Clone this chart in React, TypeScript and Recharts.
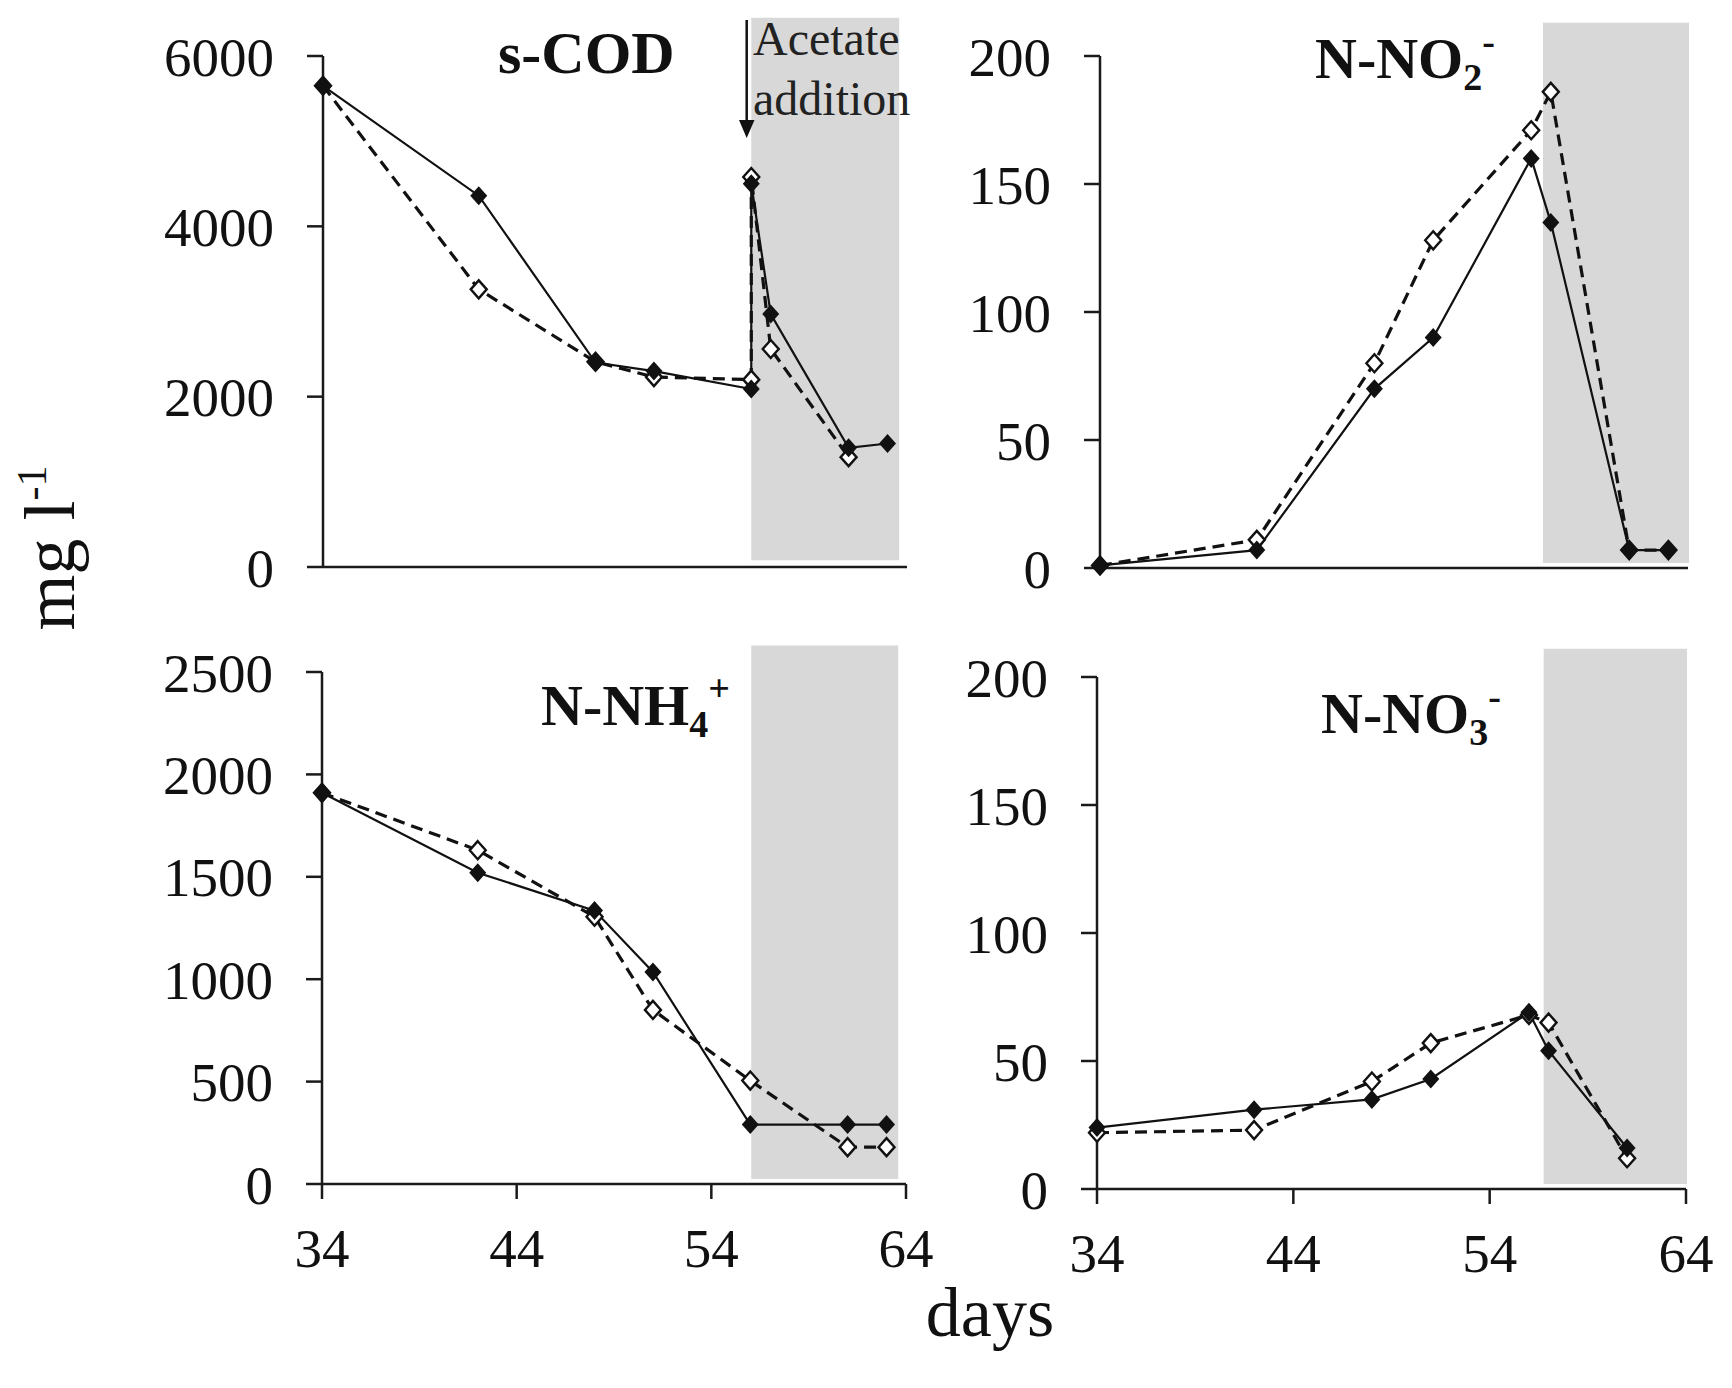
import React from 'react';
import { LineChart, Line, XAxis, YAxis, ReferenceArea } from 'recharts';

// s-COD
const codDays = [34, 42, 48, 51, 56, 56, 57, 61, 63];
const codSolid = [5650, 4360, 2400, 2300, 2090, 4500, 2970, 1400, 1450];
const codDashedDays = [34, 42, 48, 51, 56, 56, 57, 61];
const codDashed = [5650, 3260, 2410, 2230, 2200, 4580, 2560, 1290];

// N-NO2-
const no2Days = [34, 42, 48, 51, 56, 57, 61, 63];
const no2Solid = [1, 7, 70, 90, 160, 135, 7, 7];
const no2Dashed = [1, 11, 80, 128, 171, 186, 7, 7];

// N-NH4+
const nh4Days = [34, 42, 48, 51, 56, 61, 63];
const nh4Solid = [1910, 1520, 1335, 1035, 290, 290, 290];
const nh4Dashed = [1910, 1630, 1305, 850, 505, 180, 180];

// N-NO3-
const no3Days = [34, 42, 48, 51, 56, 57, 61];
const no3Solid = [24, 31, 35, 43, 69, 54, 16];
const no3Dashed = [22, 23, 42, 57, 68, 65, 12];

const dayTicks = [34, 44, 54, 64];
const codTicks = [0, 2000, 4000, 6000];
const nh4Ticks = [0, 500, 1000, 1500, 2000, 2500];
const nTicks = [0, 50, 100, 150, 200];

// shaded period: [x1, x2, y1, y2]
const codShade = [56.0, 63.6, 80, 6450];
const no2Shade = [56.6, 64.05, 2, 213];
const nh4Shade = [56.05, 63.6, 25, 2630];
const no3Shade = [56.75, 64.05, 2, 211];

const FONT = '"Liberation Serif", "Times New Roman", serif';
const AXIS = '#1a1a1a';

const toRows = (days: number[], vals: number[]) => days.map((d, i) => ({ day: d, v: vals[i] }));

const filledDot = (p: any) => {
  const { cx, cy, index } = p;
  if (cx == null || cy == null) return <g key={`f-${index}`} />;
  return (
    <polygon
      key={`f-${index}`}
      points={`${cx},${cy - 9.5} ${cx + 8.5},${cy} ${cx},${cy + 9.5} ${cx - 8.5},${cy}`}
      fill="#111"
    />
  );
};

const openDot = (p: any) => {
  const { cx, cy, index } = p;
  if (cx == null || cy == null) return <g key={`o-${index}`} />;
  return (
    <polygon
      key={`o-${index}`}
      points={`${cx},${cy - 9} ${cx + 8},${cy} ${cx},${cy + 9} ${cx - 8},${cy}`}
      fill="#fff"
      stroke="#111"
      strokeWidth={2.4}
    />
  );
};

type PanelProps = {
  left: number;
  top: number;
  width: number;
  height: number;
  margin: { top: number; right: number; bottom: number; left: number };
  yWidth: number;
  xHeight: number;
  showX: boolean;
  yMax: number;
  yTicks: number[];
  shade: number[];
  solid: { day: number; v: number }[];
  dashed: { day: number; v: number }[];
};

function Panel(props: PanelProps) {
  const { left, top, width, height, margin, yWidth, xHeight, showX, yMax, yTicks, shade, solid, dashed } = props;
  const tickStyle = { fontFamily: FONT, fontSize: 55, fill: '#111' };
  return (
    <div style={{ position: 'absolute', left, top }}>
      <LineChart width={width} height={height} margin={margin}>
        <ReferenceArea
          x1={shade[0]}
          x2={shade[1]}
          y1={shade[2]}
          y2={shade[3]}
          fill="#d8d8d8"
          fillOpacity={1}
          stroke="none"
          ifOverflow="visible"
        />
        <XAxis
          type="number"
          dataKey="day"
          domain={[34, 64]}
          ticks={dayTicks}
          interval={0}
          height={xHeight}
          tick={showX ? tickStyle : false}
          tickSize={15}
          tickMargin={29}
          axisLine={{ stroke: AXIS, strokeWidth: 2.5 }}
          tickLine={{ stroke: AXIS, strokeWidth: 2.5 }}
        />
        <YAxis
          type="number"
          domain={[0, yMax]}
          ticks={yTicks}
          interval={0}
          width={yWidth}
          tick={tickStyle}
          tickSize={16}
          tickMargin={33}
          axisLine={{ stroke: AXIS, strokeWidth: 2.5 }}
          tickLine={{ stroke: AXIS, strokeWidth: 2.5 }}
        />
        <Line
          data={dashed}
          dataKey="v"
          type="linear"
          stroke="#111"
          strokeWidth={3.2}
          strokeDasharray="12 7"
          dot={openDot}
          activeDot={false}
          isAnimationActive={false}
        />
        <Line
          data={solid}
          dataKey="v"
          type="linear"
          stroke="#111"
          strokeWidth={2.2}
          dot={filledDot}
          activeDot={false}
          isAnimationActive={false}
        />
      </LineChart>
    </div>
  );
}

export default function App() {
  return (
    <div style={{ position: 'relative', width: 1732, height: 1388, background: '#fff', overflow: 'hidden' }}>
      <style>{'body{margin:0;background:#fff}'}</style>
      <Panel
        left={0} top={0} width={940} height={620}
        margin={{ top: 56, right: 33, bottom: 23, left: 0 }}
        yWidth={323} xHeight={30} showX={false}
        yMax={6000} yTicks={codTicks} shade={codShade}
        solid={toRows(codDays, codSolid)} dashed={toRows(codDashedDays, codDashed)}
      />
      <Panel
        left={940} top={0} width={792} height={620}
        margin={{ top: 56, right: 44, bottom: 22, left: 0 }}
        yWidth={160} xHeight={30} showX={false}
        yMax={200} yTicks={nTicks} shade={no2Shade}
        solid={toRows(no2Days, no2Solid)} dashed={toRows(no2Days, no2Dashed)}
      />
      <Panel
        left={0} top={620} width={940} height={768}
        margin={{ top: 52, right: 34, bottom: 124, left: 0 }}
        yWidth={322} xHeight={80} showX={true}
        yMax={2500} yTicks={nh4Ticks} shade={nh4Shade}
        solid={toRows(nh4Days, nh4Solid)} dashed={toRows(nh4Days, nh4Dashed)}
      />
      <Panel
        left={940} top={620} width={792} height={768}
        margin={{ top: 57, right: 46, bottom: 119, left: 0 }}
        yWidth={157} xHeight={80} showX={true}
        yMax={200} yTicks={nTicks} shade={no3Shade}
        solid={toRows(no3Days, no3Solid)} dashed={toRows(no3Days, no3Dashed)}
      />
      <svg
        width={1732}
        height={1388}
        style={{ position: 'absolute', left: 0, top: 0, pointerEvents: 'none' }}
        fontFamily={FONT}
      >
        <text x={498} y={73} fontSize={60} fontWeight="bold" fill="#111">s-COD</text>
        <text x={1315} y={78} fontSize={58} fontWeight="bold" fill="#111">
          N-NO<tspan fontSize={38} dy={12}>2</tspan><tspan fontSize={38} dy={-36}>-</tspan>
        </text>
        <text x={541} y={725} fontSize={58} fontWeight="bold" fill="#111">
          N-NH<tspan fontSize={38} dy={12}>4</tspan><tspan fontSize={38} dy={-36}>+</tspan>
        </text>
        <text x={1321} y={733} fontSize={58} fontWeight="bold" fill="#111">
          N-NO<tspan fontSize={38} dy={12}>3</tspan><tspan fontSize={38} dy={-36}>-</tspan>
        </text>

        <line x1={746.7} y1={20} x2={746.7} y2={124} stroke="#111" strokeWidth={2.5} />
        <polygon points="739,120 754.5,120 746.7,138" fill="#111" />
        <text x={753} y={55} fontSize={48} fill="#222">Acetate</text>
        <text x={753} y={115} fontSize={48} fill="#222">addition</text>

        <text transform="translate(74,548) rotate(-90)" textAnchor="middle" fontSize={72} fill="#111">
          mg l<tspan fontSize={42} dy={-28}>-1</tspan>
        </text>
        <text x={990} y={1336} textAnchor="middle" fontSize={70} fill="#111">days</text>
      </svg>
    </div>
  );
}
